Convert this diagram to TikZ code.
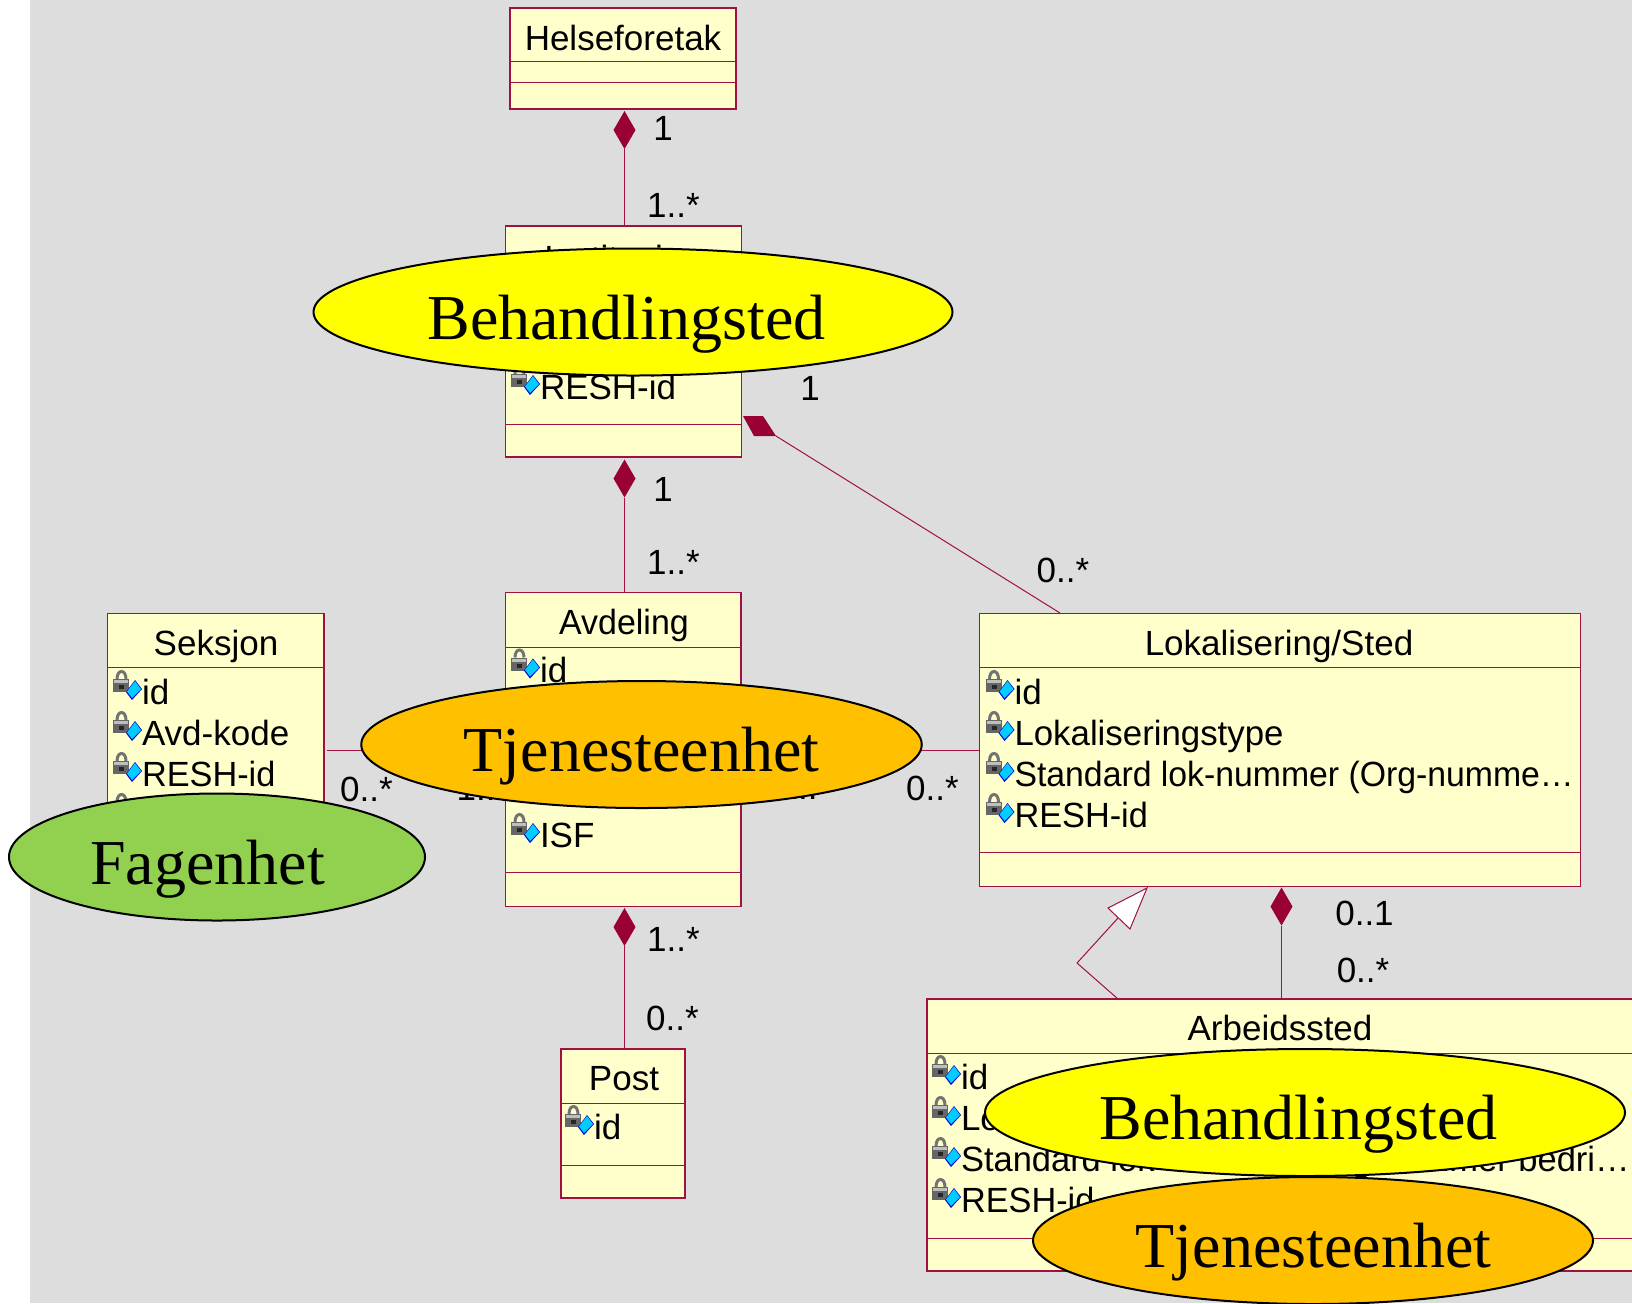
\documentclass[tikz,border=0pt]{standalone}
\usepackage{fontspec}
\setmainfont{Liberation Sans}
\newfontfamily\bigserif{Liberation Serif}
\usetikzlibrary{shapes.geometric,arrows.meta}
\definecolor{umlred}{HTML}{A01040}
\definecolor{umlfill}{HTML}{FFFFCC}
\definecolor{diamondred}{HTML}{990033}
\definecolor{bggrey}{HTML}{DDDDDD}
\definecolor{ovalyellow}{HTML}{FFFF00}
\definecolor{ovalorange}{HTML}{FFC000}
\definecolor{ovalgreen}{HTML}{92D050}
\definecolor{keyblue}{HTML}{00CCFF}
\tikzset{
  classbox/.style={draw=umlred,fill=umlfill,line width=0.6pt,rectangle,inner sep=0pt,outer sep=0pt},
  compartment/.style={draw=umlred,line width=0.5pt},
  assoc/.style={draw=umlred,line width=0.5pt},
  umltext/.style={inner sep=0pt,outer sep=0pt,font=\fontsize{17.5}{20}\selectfont,text=black},
  comp/.style={diamond,fill=diamondred,draw=none,inner sep=0pt,outer sep=0pt,minimum width=11pt,minimum height=19pt},
  oval/.style={ellipse,draw=black,line width=1pt,inner sep=0pt,outer sep=0pt},
  ovaltext/.style={inner sep=0pt,outer sep=0pt,anchor=base,font=\bigserif\fontsize{32}{36}\selectfont,text=black},
  attricon/.pic={
    \draw[line width=1.5pt,draw=black!55] (-25,-25) .. controls (-25,-35) and (-16,-35) .. (-16,-25);
    \fill[black!60] (-29,-25) rectangle (-13,-12);
    \fill[black!25] (-28,-24) rectangle (-14,-21);
    \fill[black!85] (-23,-19) rectangle (-18,-15);
    \fill[blue!85!black] (-7,-24) -- (0,-15) -- (-10,-4) -- (-16,-12) -- cycle;
    \fill[keyblue] (-7,-23) -- (-1,-15) -- (-10,-6) -- (-15,-12.5) -- cycle;
  }
}
\newcommand{\attrrow}[4]{%
  \node[umltext,anchor=base west] (#1) at (#2,#3) {#4};
  \pic at (#1.base west) {attricon};}
\newcommand{\mult}[4]{\node[umltext,anchor=base] (#1) at (#2,#3) {#4};}
\begin{document}
\begin{tikzpicture}[x=0.5pt,y=-0.5pt]
\clip (0,0) rectangle (1632,1303);
\fill[white] (0,0) rectangle (1632,1303);
\fill[bggrey] (30,0) rectangle (1632,1303);

% class boxes
\node[classbox,minimum width=113pt,minimum height=50.5pt] (helse) at (623,58.5) {};
\node[classbox,minimum width=118.25pt,minimum height=115.5pt] (inst) at (623.5,341.5) {};
\node[classbox,minimum width=117.75pt,minimum height=156.75pt] (avd) at (623.25,749.5) {};
\node[classbox,minimum width=108.25pt,minimum height=136.25pt] (sek) at (215.75,750) {};
\node[classbox,minimum width=300.25pt,minimum height=136.25pt] (lok) at (1280,750) {};
\node[classbox,minimum width=366.5pt,minimum height=136pt] (arb) at (1293.5,1135) {};
\node[classbox,minimum width=62pt,minimum height=74.5pt] (post) at (623,1123.5) {};

% compartments
\draw[compartment] (helse.west |- 0,61.5) -- (helse.east |- 0,61.5);
\draw[compartment] (helse.west |- 0,82.5) -- (helse.east |- 0,82.5);
\draw[compartment] (inst.west |- 0,424) -- (inst.east |- 0,424);
\draw[compartment] (avd.west |- 0,647) -- (avd.east |- 0,647);
\draw[compartment] (avd.west |- 0,872.5) -- (avd.east |- 0,872.5);
\draw[compartment] (sek.west |- 0,667) -- (sek.east |- 0,667);
\draw[compartment] (lok.west |- 0,667) -- (lok.east |- 0,667);
\draw[compartment] (lok.west |- 0,852.5) -- (lok.east |- 0,852.5);
\draw[compartment] (arb.west |- 0,1053) -- (arb.east |- 0,1053);
\draw[compartment] (arb.west |- 0,1238) -- (arb.east |- 0,1238);
\draw[compartment] (post.west |- 0,1103) -- (post.east |- 0,1103);
\draw[compartment] (post.west |- 0,1165) -- (post.east |- 0,1165);

% composition diamonds and connectors
\node[comp] (d1) at (624.5,130) {};
\node[comp] (d2) at (624.5,478.5) {};
\node[comp] (d3) at (624.5,927) {};
\node[comp] (d4) at (1281.5,906.5) {};
\draw[assoc] (d1.south) -- (d1.south |- inst.north);
\draw[assoc] (d2.south) -- (d2.south |- avd.north);
\draw[assoc] (d3.south) -- (d3.south |- post.north);
\draw[assoc] (d4.south) -- (d4.south |- arb.north);

% Institusjon - Lokalisering composition
\coordinate (q1) at (743,416);
\coordinate (q2) at (763,416);
\coordinate (q3) at (776,436);
\coordinate (q4) at (754,436);
\coordinate (lokIn) at (1060,613);
\fill[diamondred] (q1) -- (q2) -- (q3) -- (q4) -- cycle;
\draw[assoc] (q3) -- (lokIn);

% generalisation
\coordinate (g1) at (1147,888);
\coordinate (g2) at (1108,908);
\coordinate (g3) at (1130,929);
\coordinate (gb) at (1118,918);
\coordinate (gk) at (1077,963);
\coordinate (ga) at (1118,999);
\draw[assoc] (gb) -- (gk) -- (ga);
\draw[assoc,fill=white] (g1) -- (g2) -- (g3) -- cycle;

% horizontal associations
\coordinate (sekOut) at (327,750.5);
\draw[assoc] (sekOut) -- (sekOut -| avd.west);
\draw[assoc] (lok.west |- 0,750.5) -- (avd.east |- 0,750.5);

% class titles
\node[umltext] (tHelse) at (623,38) {Helseforetak};
\node[umltext] (tInst) at (623,261) {Institusjon};
\node[umltext] (tAvd) at (624,625.5) {\scalebox{0.97}[1]{Avdeling}};
\node[umltext] (tSek) at (216,646) {Seksjon};
\node[umltext] (tLok) at (1279,646) {Lokalisering/Sted};
\node[umltext] (tPost) at (624,1079) {Post};
\node[umltext] (tArb) at (1280,1028) {Arbeidssted};

% attributes
\attrrow{a1}{540}{399}{RESH-id}
\attrrow{a2}{540}{682.5}{id}
\attrrow{a3}{540}{847}{ISF}
\attrrow{a4}{142}{704}{id}
\attrrow{a5}{142}{745}{Avd-kode}
\attrrow{a6}{142}{786}{\scalebox{0.98}[1]{RESH-id}}
\attrrow{a7}{142}{827}{}
\attrrow{a8}{1014.5}{704}{id}
\attrrow{a9}{1014.5}{745}{\scalebox{0.995}[1]{Lokaliseringstype}}
\attrrow{a10}{1014.5}{786}{\scalebox{0.965}[1]{Standard lok-nummer (Org-numme…}}
\attrrow{a11}{1014.5}{827}{\scalebox{0.98}[1]{RESH-id}}
\attrrow{a12}{961}{1089}{id}
\attrrow{a13}{961}{1130}{Lokaliseringstype}
\attrrow{a14}{961}{1171}{\scalebox{0.985}[1]{Standard lok-nummer (Org-nummer bedri…}}
\attrrow{a15}{961}{1212}{\scalebox{0.98}[1]{RESH-id}}
\attrrow{a16}{594}{1139}{id}

% multiplicities
\mult{m1}{663}{140}{1}
\mult{m2}{673.5}{217}{1..*}
\mult{m3}{810}{400}{1}
\mult{m4}{663}{501}{1}
\mult{m5}{673.5}{574}{1..*}
\mult{m6}{1063}{582}{0..*}
\mult{m7}{366.5}{801}{0..*}
\mult{m8}{483}{800}{1..*}
\mult{m9}{805}{799.5}{1..*}
\mult{m10}{932.5}{800.5}{0..*}
\mult{m11}{673.5}{951}{1..*}
\mult{m12}{672.5}{1030}{0..*}
\mult{m13}{1364.5}{925}{0..1}
\mult{m14}{1363}{982}{0..*}

% ovals on top
\node[oval,fill=ovalyellow,minimum width=319.5pt,minimum height=63.5pt] (o1) at (633,312) {};
\node[ovaltext] (o1t) at (626.5,339) {Behandlingsted};
\node[oval,fill=ovalorange,minimum width=280.25pt,minimum height=63.5pt] (o2) at (641.5,744.5) {};
\node[ovaltext] (o2t) at (641.5,771) {Tjenesteenhet};
\node[oval,fill=ovalgreen,minimum width=208pt,minimum height=63.5pt] (o3) at (217,857) {};
\node[ovaltext] (o3t) at (207.5,884) {Fagenhet};
\node[oval,fill=ovalyellow,minimum width=320pt,minimum height=63.5pt] (o4) at (1305,1112.5) {};
\node[ovaltext] (o4t) at (1298.5,1139) {Behandlingsted};
\node[oval,fill=ovalorange,minimum width=280pt,minimum height=63.5pt] (o5) at (1313,1240.5) {};
\node[ovaltext] (o5t) at (1313.5,1267.5) {Tjenesteenhet};
\end{tikzpicture}
\end{document}
